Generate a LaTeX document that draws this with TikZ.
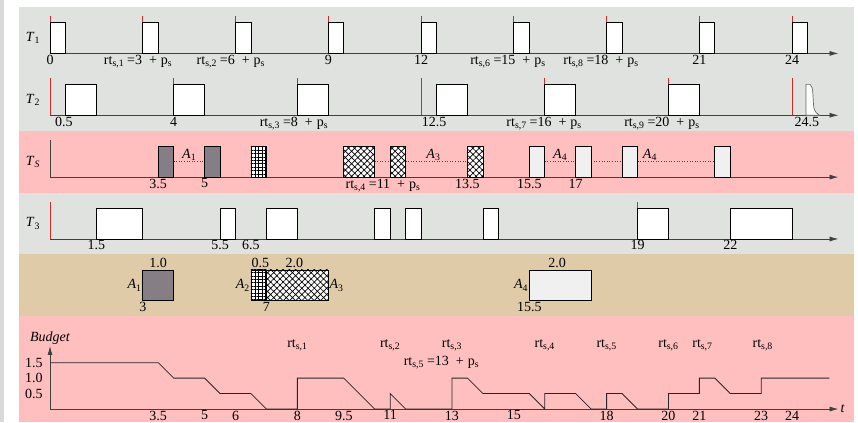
\documentclass[tikz,border=0pt]{standalone}
\usepackage{fontspec}
\setmainfont{Liberation Serif}
\usetikzlibrary{arrows.meta,patterns.meta}

\definecolor{panelgray}{HTML}{DFE2DF}
\definecolor{panelpink}{HTML}{FFBFBF}
\definecolor{paneltan}{HTML}{E0CBA8}
\definecolor{stripgray}{HTML}{D9D9D9}
\definecolor{jobdark}{HTML}{857F85}
\definecolor{joblight}{HTML}{F0F0F0}
\definecolor{relred}{HTML}{D42A2A}

\newcommand{\rts}[1]{rt\textsubscript{s,#1}}
\newcommand{\ps}{p\textsubscript{s}}
\newcommand{\rtp}[2]{\rts{#1}\hspace{3pt}=#2\hspace{7pt}+\hspace{4pt}\ps}
\newcommand{\Tk}[1]{\textit{T}\textsubscript{#1}}
\newcommand{\Ak}[1]{\textit{A}\textsubscript{#1}}

\begin{document}
\begin{tikzpicture}[x=30.92pt, y=30.92pt, font=\fontsize{14}{16}\selectfont,
    timeaxis/.style={draw=black!75, line width=0.8pt, -{Latex[length=9pt,width=5pt]}},
    release/.style={draw=relred, line width=1pt},
    job/.style={draw=black, line width=0.7pt, fill=white},
    darkjob/.style={job, fill=jobdark},
    lightjob/.style={job, fill=joblight},
    gridjob/.style={draw=black, line width=0.7pt, preaction={fill=white}, pattern={Hatch[angle=0, distance=3.4pt, line width=0.6pt]}},
    crossjob/.style={draw=black, line width=0.7pt, preaction={fill=white}, pattern={Hatch[angle=45, distance=4.4pt, line width=0.7pt]}},
    idle/.style={draw=black!70, line width=0.6pt, dotted},
    ticklabel/.style={below, inner sep=1.5pt},
    budget/.style={draw=black!85, line width=0.8pt}]
    \useasboundingbox (-1.617,-0.42) rectangle (26.13,13.228);

    % background panels
    \fill[stripgray] (-1.617,-0.42) rectangle (-1.49,13.228);
    \fill[panelgray] (-1,9) rectangle (26,13);
    \fill[panelpink] (-1,7) rectangle (26,9);
    \fill[panelgray] (-1,5) rectangle (26,7);
    \fill[paneltan] (-1,3) rectangle (26,5);
    \fill[panelpink] (-1,-0.42) rectangle (26,3);

    % T1
    \node (T1) at (-0.55,12.0) {\Tk{1}};
    \foreach \s in {0,3,...,24} \draw[release] (\s,11.5) -- ++(0,1.2);
    \draw[timeaxis] (0,11.5) -- (25.5,11.5);
    \foreach \s in {0,3,...,24} \draw[job] (\s,11.5) rectangle ++(0.5,1);
    \node[ticklabel] (t1a) at (0,11.5) {0};
    \node[ticklabel] (t1b) at (2.85,11.5) {\rtp{1}{3}};
    \node[ticklabel] (t1c) at (5.85,11.5) {\rtp{2}{6}};
    \node[ticklabel] (t1d) at (9,11.5) {9};
    \node[ticklabel] (t1e) at (12,11.5) {12};
    \node[ticklabel] (t1f) at (14.81,11.5) {\rtp{6}{15}};
    \node[ticklabel] (t1g) at (17.82,11.5) {\rtp{8}{18}};
    \node[ticklabel] (t1h) at (21,11.5) {21};
    \node[ticklabel] (t1i) at (24,11.5) {24};

    % T2
    \node (T2) at (-0.55,10.0) {\Tk{2}};
    \foreach \s in {0,4,...,24} \draw[release] (\s,9.5) -- ++(0,1.2);
    \draw[timeaxis] (0,9.5) -- (25.5,9.5);
    \foreach \s in {0.5,4,8,12.5,16,20} \draw[job] (\s,9.5) rectangle ++(1,1);
    \draw[job, draw=black!60] (24.45,9.5) -- (24.45,10.5) -- (24.58,10.5)
        .. controls (24.65,10.45) and (24.66,10.35) .. (24.67,10.2) -- (24.69,9.85)
        .. controls (24.71,9.6) and (24.8,9.55) .. (24.88,9.5) -- cycle;
    \node[ticklabel] (t2a) at (0.45,9.5) {0.5};
    \node[ticklabel] (t2b) at (4,9.5) {4};
    \node[ticklabel] (t2c) at (7.89,9.5) {\rtp{3}{8}};
    \node[ticklabel] (t2d) at (12.42,9.5) {12.5};
    \node[ticklabel] (t2e) at (15.98,9.5) {\rtp{7}{16}};
    \node[ticklabel] (t2f) at (19.79,9.5) {\rtp{9}{20}};
    \node[ticklabel] (t2g) at (24.48,9.5) {24.5};

    % server
    \node (TS) at (-0.55,8.0) {\Tk{\textit{S}}};
    \draw[draw=black!75, line width=0.8pt] (0,7.5) -- (0,8.7);
    \draw[timeaxis] (0,7.5) -- (25.5,7.5);
    \draw[idle] (4,8) -- (5,8);
    \draw[idle] (10.5,8) -- (11,8);
    \draw[idle] (11.5,8) -- (13.5,8);
    \draw[idle] (16,8) -- (17,8);
    \draw[idle] (17.5,8) -- (18.5,8);
    \draw[idle] (19,8) -- (21.5,8);
    \draw[darkjob] (3.5,7.5) rectangle ++(0.5,1);
    \draw[darkjob] (5,7.5) rectangle ++(0.5,1);
    \draw[gridjob] (6.5,7.5) rectangle ++(0.5,1);
    \draw[crossjob] (9.5,7.5) rectangle ++(1,1);
    \draw[crossjob] (11,7.5) rectangle ++(0.5,1);
    \draw[crossjob] (13.5,7.5) rectangle ++(0.5,1);
    \foreach \s in {15.5,17,18.5,21.5} \draw[lightjob] (\s,7.5) rectangle ++(0.5,1);
    \node[above, inner sep=1pt] (ga) at (4.5,8) {\Ak{1}};
    \node[above, inner sep=1pt] (gb) at (12.4,8) {\Ak{3}};
    \node[above, inner sep=1pt] (gc) at (16.5,8) {\Ak{4}};
    \node[above, inner sep=1pt] (gd) at (19.4,8) {\Ak{4}};
    \node[ticklabel] (tsa) at (3.5,7.5) {3.5};
    \node[ticklabel] (tsb) at (5,7.5) {5};
    \node[ticklabel] (tsc) at (10.77,7.5) {\rtp{4}{11}};
    \node[ticklabel] (tsd) at (13.5,7.5) {13.5};
    \node[ticklabel] (tse) at (15.5,7.5) {15.5};
    \node[ticklabel] (tsf) at (17,7.5) {17};

    % T3
    \node (T3) at (-0.55,6.0) {\Tk{3}};
    \draw[release] (0,5.5) -- ++(0,1.2);
    \draw[release] (19,5.5) -- ++(0,1.2);
    \draw[timeaxis] (0,5.5) -- (25.5,5.5);
    \draw[job] (1.5,5.5) rectangle ++(1.5,1);
    \draw[job] (5.5,5.5) rectangle ++(0.5,1);
    \draw[job] (7,5.5) rectangle ++(1,1);
    \draw[job] (10.5,5.5) rectangle ++(0.5,1);
    \draw[job] (11.5,5.5) rectangle ++(0.5,1);
    \draw[job] (14,5.5) rectangle ++(0.5,1);
    \draw[job] (19,5.5) rectangle ++(1,1);
    \draw[job] (22,5.5) rectangle ++(2,1);
    \node[ticklabel] (t3a) at (1.5,5.5) {1.5};
    \node[ticklabel] (t3b) at (5.5,5.5) {5.5};
    \node[ticklabel] (t3c) at (6.5,5.5) {6.5};
    \node[ticklabel] (t3d) at (19,5.5) {19};
    \node[ticklabel] (t3e) at (22,5.5) {22};

    % aperiodic jobs
    \draw[darkjob] (3,3.5) rectangle (4,4.5);
    \draw[gridjob] (6.5,3.5) rectangle (7,4.5);
    \draw[crossjob] (7,3.5) rectangle (9,4.5);
    \draw[lightjob] (15.5,3.5) rectangle (17.5,4.5);
    \node[left, inner sep=1pt] (a1) at (3,4) {\Ak{1}};
    \node[above, inner sep=1.5pt] (e1) at (3.5,4.5) {1.0};
    \node[ticklabel] (r1) at (3,3.5) {3};
    \node[left, inner sep=1pt] (a2) at (6.5,4) {\Ak{2}};
    \node[right, inner sep=1pt] (a3) at (9,4) {\Ak{3}};
    \node[above, inner sep=1.5pt] (e2) at (6.8,4.5) {0.5};
    \node[above, inner sep=1.5pt] (e3) at (7.9,4.5) {2.0};
    \node[ticklabel] (r2) at (7,3.5) {7};
    \node[left, inner sep=1pt] (a4) at (15.5,4) {\Ak{4}};
    \node[above, inner sep=1.5pt] (e4) at (16.4,4.5) {2.0};
    \node[ticklabel] (r4) at (15.5,3.5) {15.5};

    % budget
    \draw[timeaxis] (0,0) -- (0,2.04);
    \draw[timeaxis] (0,0) -- (25.5,0);
    \node[above, inner sep=1pt] (B) at (0,2.04) {\textit{Budget}};
    \node[right, inner sep=2pt] (t) at (25.5,0) {\textit{t}};
    \node[left, inner sep=1pt] (b15) at (-0.2,1.5) {1.5};
    \node[left, inner sep=1pt] (b10) at (-0.2,1.0) {1.0};
    \node[left, inner sep=1pt] (b05) at (-0.2,0.5) {0.5};
    \draw[budget] (0,1.5) -- (3.5,1.5) -- (4,1) -- (5,1) -- (5.5,0.5) -- (6.5,0.5) -- (7,0)
        -- (8,0) -- (8,1) -- (9.5,1) -- (10.5,0) -- (11,0) -- (11,0.5) -- (11.5,0)
        -- (13,0) -- (13,1) -- (13.5,1) -- (14,0.5) -- (15.5,0.5) -- (16,0)
        -- (16,0.5) -- (17,0.5) -- (17.5,0) -- (18,0) -- (18,0.5) -- (18.5,0.5) -- (19,0)
        -- (20,0) -- (20,0.5) -- (21,0.5) -- (21,1) -- (21.5,1) -- (22,0.5)
        -- (23,0.5) -- (23,1) -- (25.2,1);
    \node (u1) at (8,2.07) {\rts{1}};
    \node (u2) at (11,2.07) {\rts{2}};
    \node (u5) at (12.66,1.49) {\rtp{5}{13}};
    \node (u3) at (13,2.07) {\rts{3}};
    \node (u4) at (16,2.07) {\rts{4}};
    \node (u5b) at (18,2.07) {\rts{5}};
    \node (u6) at (20,2.07) {\rts{6}};
    \node (u7) at (21.1,2.07) {\rts{7}};
    \node (u8) at (23.05,2.07) {\rts{8}};
    \node[ticklabel] (x1) at (3.5,0) {3.5};
    \node[ticklabel] (x2) at (5,0) {5};
    \node[ticklabel] (x3) at (6,0) {6};
    \node[ticklabel] (x4) at (8,0) {8};
    \node[ticklabel] (x5) at (9.5,0) {9.5};
    \node[ticklabel] (x6) at (11,0) {11};
    \node[ticklabel] (x7) at (13,0) {13};
    \node[ticklabel] (x8) at (15,0) {15};
    \node[ticklabel] (x9) at (18,0) {18};
    \node[ticklabel] (x10) at (20,0) {20};
    \node[ticklabel] (x11) at (21,0) {21};
    \node[ticklabel] (x12) at (23,0) {23};
    \node[ticklabel] (x13) at (24,0) {24};
\end{tikzpicture}
\end{document}
